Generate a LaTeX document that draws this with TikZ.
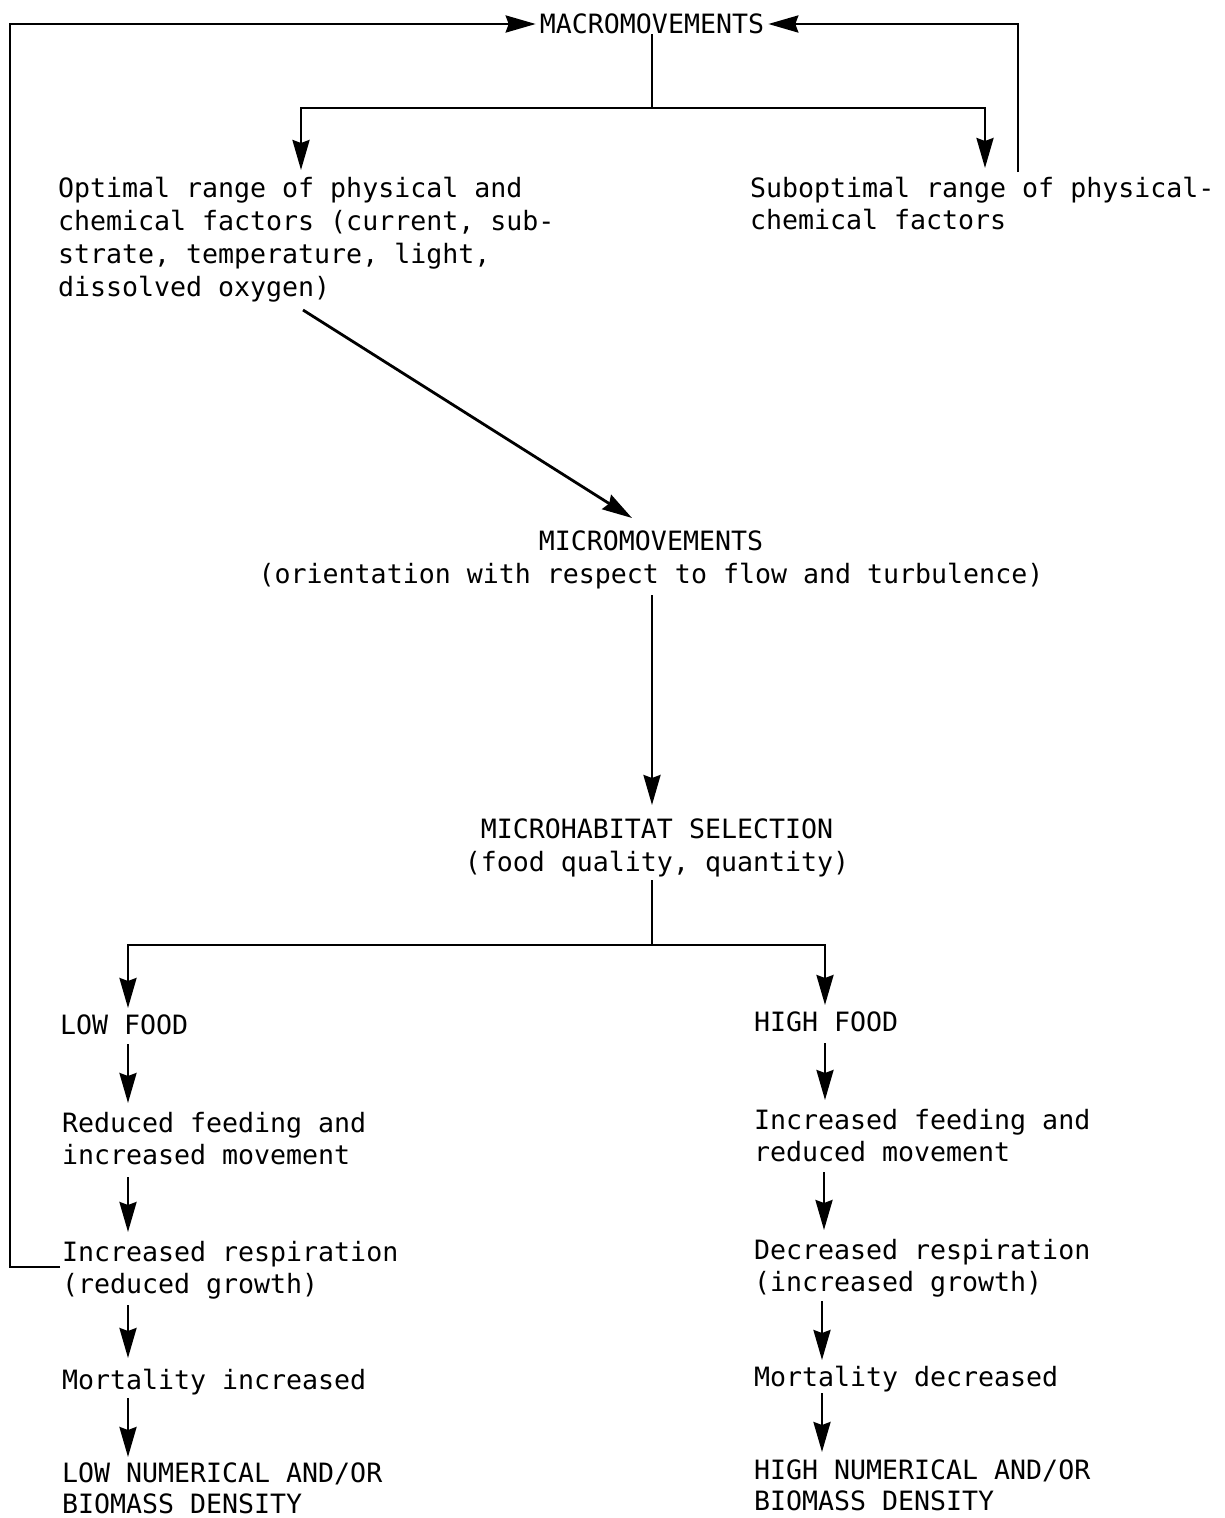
\documentclass[tikz,border=0pt]{standalone}
\usepackage{fontspec}
\setmonofont{DejaVu Sans Mono}
\usetikzlibrary{arrows.meta}
\tikzset{
  txt/.style={font=\ttfamily\fontsize{26.6}{32}\selectfont, inner sep=0pt, outer sep=0pt, align=left, anchor=north west},
  ctxt/.style={font=\ttfamily\fontsize{26.6}{32.5}\selectfont, inner sep=0pt, outer sep=0pt, align=center, anchor=north},
  ln/.style={line width=2.8pt, line join=miter},
  arr/.style={ln, -{Stealth[length=30pt, width=17pt, inset=3pt]}}
}
\begin{document}
\begin{tikzpicture}[x=1pt, y=-1pt]
\useasboundingbox (0,0) rectangle (1224,1518);
% nodes
\node[font=\ttfamily\fontsize{26.6}{32.5}\selectfont, inner sep=0pt] (macro) at (652,24) {MACROMOVEMENTS};
\node[txt, font=\ttfamily\fontsize{26.6}{33}\selectfont] (opt) at (58,177) {Optimal range of physical and\\chemical factors (current, sub-\\strate, temperature, light,\\dissolved oxygen)};
\node[txt] (sub) at (750,177) {Suboptimal range of physical-\\chemical factors};
\node[ctxt] (micro) at (651,531) {MICROMOVEMENTS\\(orientation with respect to flow and turbulence)};
\node[ctxt] (hab) at (657,819) {MICROHABITAT SELECTION\\(food quality, quantity)};
\node[txt] (lowfood) at (60,1015) {LOW FOOD};
\node[txt] (redfeed) at (62,1112) {Reduced feeding and\\increased movement};
\node[txt] (incresp) at (62,1241) {Increased respiration\\(reduced growth)};
\node[txt] (mortinc) at (62,1369) {Mortality increased};
\node[txt, font=\ttfamily\fontsize{26.6}{30.5}\selectfont] (lownum) at (62,1463) {LOW NUMERICAL AND/OR\\BIOMASS DENSITY};
\node[txt] (highfood) at (754,1012) {HIGH FOOD};
\node[txt] (incfeed) at (754,1109) {Increased feeding and\\reduced movement};
\node[txt] (decresp) at (754,1239) {Decreased respiration\\(increased growth)};
\node[txt] (mortdec) at (754,1366) {Mortality decreased};
\node[txt, font=\ttfamily\fontsize{26.6}{30.5}\selectfont] (highnum) at (754,1460) {HIGH NUMERICAL AND/OR\\BIOMASS DENSITY};
% coordinates
\coordinate (cornerL) at (10,24);
\coordinate (fbL) at (60,1267);
\coordinate (fbR) at (1018,172);
\coordinate (jTop) at (652,108);
\coordinate (tOpt) at (301,170);
\coordinate (tSub) at (985,168);
\coordinate (dStart) at (303,310);
\coordinate (dEnd) at (632,518);
\coordinate (mStart) at (652,595);
\coordinate (mEnd) at (652,805);
\coordinate (hStart) at (652,880);
\coordinate (jBot) at (652,945);
\coordinate (tLow) at (128,1008);
\coordinate (tHigh) at (825,1005);
% connectors
\draw[arr, shorten >=4pt] (fbL) -| (cornerL) -- (macro.west);
\draw[arr, shorten >=4pt] (fbR) |- (macro.east);
\draw[ln] (macro.south) -- (jTop);
\draw[arr] (jTop) -| (tOpt);
\draw[arr] (jTop) -| (tSub);
\draw[arr] (dStart) -- (dEnd);
\draw[arr] (mStart) -- (mEnd);
\draw[ln] (hStart) -- (jBot);
\draw[arr] (jBot) -| (tLow);
\draw[arr] (jBot) -| (tHigh);
% left chain
\draw[arr] (128,1044) -- (128,1103);
\draw[arr] (128,1177) -- (128,1232);
\draw[arr] (128,1305) -- (128,1358);
\draw[arr] (128,1398) -- (128,1457);
% right chain
\draw[arr] (825,1043) -- (825,1100);
\draw[arr] (824,1172) -- (824,1230);
\draw[arr] (822,1301) -- (822,1360);
\draw[arr] (822,1393) -- (822,1452);
\end{tikzpicture}
\end{document}
